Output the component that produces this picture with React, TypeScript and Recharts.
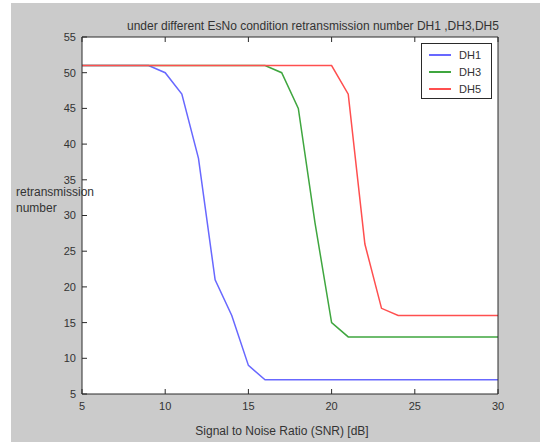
import React from 'react';
import { LineChart, Line, XAxis, YAxis, CartesianGrid, Legend } from 'recharts';

const snr = [5, 6, 7, 8, 9, 10, 11, 12, 13, 14, 15, 16, 17, 18, 19, 20, 21, 22, 23, 24, 25, 26, 27, 28, 29, 30];
const dh1 = [51, 51, 51, 51, 51, 50, 47, 38, 21, 16, 9, 7, 7, 7, 7, 7, 7, 7, 7, 7, 7, 7, 7, 7, 7, 7];
const dh3 = [51, 51, 51, 51, 51, 51, 51, 51, 51, 51, 51, 51, 50, 45, 29, 15, 13, 13, 13, 13, 13, 13, 13, 13, 13, 13];
const dh5 = [51, 51, 51, 51, 51, 51, 51, 51, 51, 51, 51, 51, 51, 51, 51, 51, 47, 26, 17, 16, 16, 16, 16, 16, 16, 16];

const xTicks = [5, 10, 15, 20, 25, 30];
const yTicks = [5, 10, 15, 20, 25, 30, 35, 40, 45, 50, 55];

const seriesNames = ['DH1', 'DH3', 'DH5'];
const seriesColors = ['#6868ff', '#3fa63f', '#ff4f4f'];

const rows = snr.map((x, i) => ({ snr: x, DH1: dh1[i], DH3: dh3[i], DH5: dh5[i] }));

const FONT = '"Liberation Sans", Arial, sans-serif';
const AXIS = '#2a2a2a';

function LegendBox(props: any) {
  const items = (props.payload || []) as any[];
  return (
    <div
      style={{
        width: 69,
        height: 54,
        border: `1px solid ${AXIS}`,
        background: '#fff',
        fontFamily: FONT,
        fontSize: 11,
        color: '#333',
      }}
    >
      {items.map((it) => (
        <div key={it.value} style={{ display: 'flex', alignItems: 'center', height: 17, marginTop: it.value === 'DH1' ? 2 : 0 }}>
          <svg width={37} height={10}>
            <line x1={7} x2={29} y1={5} y2={5} stroke={it.color} strokeWidth={2} />
          </svg>
          <span>{it.value}</span>
        </div>
      ))}
    </div>
  );
}

export default function App() {
  const tickStyle = { fill: '#333', fontSize: 11, fontFamily: FONT };
  return (
    <div style={{ position: 'absolute', left: 0, top: 0, width: 540, height: 443, background: '#fff' }}>
      <div style={{ position: 'absolute', left: 11, top: 3, width: 529, height: 439, background: '#cbcbcb' }} />
      <div style={{ position: 'absolute', left: 0, top: 0 }}>
        <LineChart width={540} height={443} data={rows} margin={{ top: 0, right: 0, bottom: 0, left: 0 }}>
          <CartesianGrid fill="#ffffff" stroke="none" horizontal={false} vertical={false} />
          <XAxis
            dataKey="snr"
            type="number"
            domain={[5, 30]}
            ticks={xTicks}
            height={49}
            tickSize={-5}
            tickMargin={13}
            tick={tickStyle}
            axisLine={{ stroke: AXIS }}
            tickLine={{ stroke: AXIS }}
          />
          <XAxis
            xAxisId="top"
            orientation="top"
            dataKey="snr"
            type="number"
            domain={[5, 30]}
            ticks={xTicks}
            height={37}
            tickSize={-5}
            tickFormatter={() => ''}
            axisLine={{ stroke: AXIS }}
            tickLine={{ stroke: AXIS }}
          />
          <YAxis
            type="number"
            domain={[5, 55]}
            ticks={yTicks}
            width={82}
            tickSize={-5}
            tickMargin={11}
            tick={tickStyle}
            axisLine={{ stroke: AXIS }}
            tickLine={{ stroke: AXIS }}
          />
          <YAxis
            yAxisId="right"
            orientation="right"
            type="number"
            domain={[5, 55]}
            ticks={yTicks}
            width={42}
            tickSize={-5}
            tickFormatter={() => ''}
            axisLine={{ stroke: AXIS }}
            tickLine={{ stroke: AXIS }}
          />
          <Legend
            layout="vertical"
            verticalAlign="middle"
            align="center"
            wrapperStyle={{ position: 'absolute', left: 421, top: 43, width: 71 }}
            content={<LegendBox />}
          />
          {seriesNames.map((name, i) => (
            <Line
              key={name}
              type="linear"
              dataKey={name}
              stroke={seriesColors[i]}
              strokeWidth={1.5}
              dot={false}
              isAnimationActive={false}
            />
          ))}
        </LineChart>
      </div>
      <div
        style={{
          position: 'absolute',
          left: 127,
          top: 19,
          fontFamily: FONT,
          fontSize: 12,
          color: '#333',
          whiteSpace: 'nowrap',
        }}
      >
        under different EsNo condition retransmission number DH1 ,DH3,DH5
      </div>
      <div
        style={{
          position: 'absolute',
          left: 16,
          top: 184,
          fontFamily: FONT,
          fontSize: 12,
          lineHeight: '16px',
          color: '#333',
        }}
      >
        retransmission
        <br />
        number
      </div>
      <div
        style={{
          position: 'absolute',
          left: 82,
          width: 400,
          top: 424,
          textAlign: 'center',
          fontFamily: FONT,
          fontSize: 12,
          color: '#333',
        }}
      >
        Signal to Noise Ratio (SNR) [dB]
      </div>
    </div>
  );
}
